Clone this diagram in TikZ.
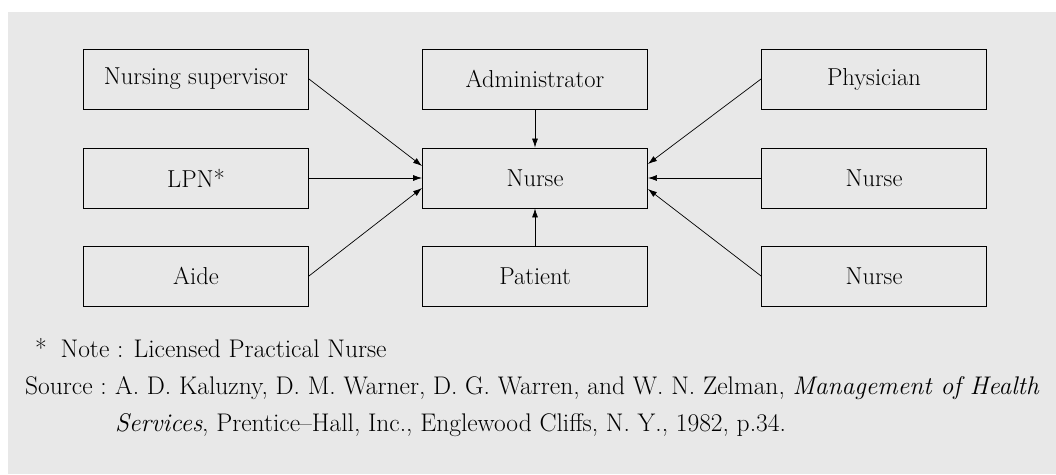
\documentclass[tikz,border=0pt]{standalone}
\usepackage{tikz}
\usetikzlibrary{arrows.meta,positioning}
\definecolor{paper}{RGB}{232,232,232}
\tikzset{
	rolebox/.style={draw, line width=0.9pt, minimum width=225pt, minimum height=60pt, inner sep=0pt, font=\fontsize{24.5}{28}\selectfont},
	tie/.style={line width=0.7pt, -{Latex[length=9pt,width=6pt]}},
	foot/.style={inner sep=0pt, anchor=base west, font=\fontsize{25.5}{30}\selectfont}
}
\begin{document}
\begin{tikzpicture}[x=1pt, y=-1pt]
		%%%%% START %%%%%
		\useasboundingbox (0, 0) rectangle (1056, 474);
		\fill[white] (0, 0) rectangle (1056, 474);
		\fill[paper] (8, 12) rectangle (1056, 474);
		
		\node[rolebox] (sup) at (196, 79) {Nursing supervisor};
		\node[rolebox] (lpn) at (196, 178) {LPN*};
		\node[rolebox] (aide) at (196, 276) {Aide};
		
		\node[rolebox] (admin) at (535, 79) {Administrator};
		\node[rolebox] (nurse) at (535, 178) {Nurse};
		\node[rolebox] (patient) at (535, 276) {Patient};
		
		\node[rolebox] (phys) at (874, 79) {Physician};
		\node[rolebox] (peer) at (874, 178) {Nurse};
		\node[rolebox] (peerb) at (874, 276) {Nurse};
		
		\draw[tie] (sup.east) -- ([yshift=12pt]nurse.west);
		\draw[tie] (lpn.east) -- (nurse.west);
		\draw[tie] (aide.east) -- ([yshift=-10pt]nurse.west);
		\draw[tie] (admin.south) -- (nurse.north);
		\draw[tie] (patient.north) -- (nurse.south);
		\draw[tie] (phys.west) -- ([yshift=14pt]nurse.east);
		\draw[tie] (peer.west) -- (nurse.east);
		\draw[tie] (peerb.west) -- ([yshift=-11pt]nurse.east);
		
		\node[foot] (note) at (35, 357) {*\hspace{6pt} Note : Licensed Practical Nurse};
		\node[foot] (src) at (25, 394) {Source :};
		\node[foot] (ref) at ([xshift=8pt]src.base east) {A. D. Kaluzny, D. M. Warner, D. G. Warren, and W. N. Zelman, \textit{Management of Health}};
		\node[foot] (refb) at ([yshift=-37pt]ref.base west) {\textit{Services}, Prentice--Hall, Inc., Englewood Cliffs, N. Y., 1982, p.34.};
		%%%%% END %%%%%
	\end{tikzpicture}
\end{document}
